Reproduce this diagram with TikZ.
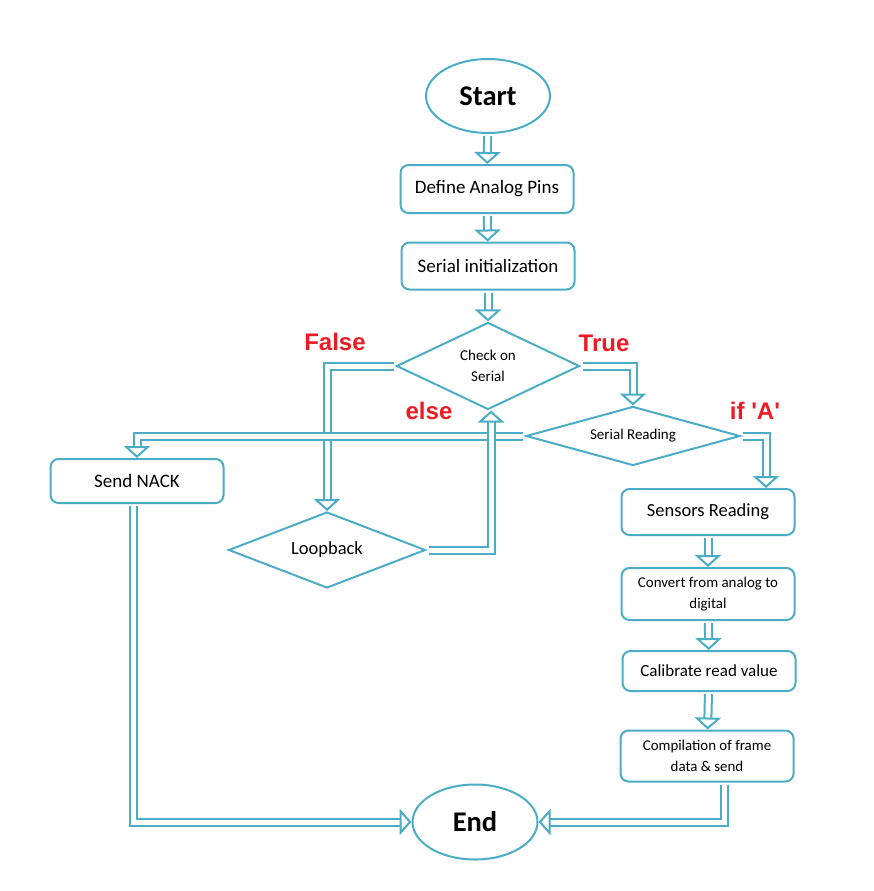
\documentclass[tikz,border=0pt]{standalone}
\usepackage{fontspec}
\setmainfont{Carlito}
\newfontfamily\arialf{Liberation Sans}
\usetikzlibrary{shapes.geometric,arrows.meta}
\definecolor{fc}{RGB}{75,172,198}
\definecolor{lbl}{RGB}{237,28,36}
\tikzset{
  procbox/.style={draw=fc, line width=2pt, rounded corners=8pt, minimum width=173pt, align=center, inner sep=0pt},
  term/.style={draw=fc, line width=2pt, ellipse, inner sep=0pt, font=\fontsize{28.5}{32}\selectfont\bfseries},
  decis/.style={draw=fc, line width=2pt, diamond, inner sep=0pt, shape aspect=2, align=center},
  flow/.style={draw=fc, line width=2pt, double=white, double distance=5pt, -{Triangle[open, fill=white, width'=0pt 2.2, length=12pt, line width=2pt]}, shorten <=2pt},
  cond/.style={text=lbl, font=\arialf\bfseries\fontsize{24}{28}\selectfont},
}
\begin{document}
\begin{tikzpicture}[x=1pt,y=-1pt]
\useasboundingbox (0,0) rectangle (874,891);
\node[term, minimum width=124pt, minimum height=74pt] (start) at (488,96) {Start};
\node[procbox, minimum height=48pt, font=\fontsize{19}{22}\selectfont] (def) at (487,189) {Define Analog Pins};
\node[procbox, minimum height=47pt, font=\fontsize{19}{22}\selectfont] (ser) at (488,266) {Serial initialization};
\node[decis, minimum width=183pt, minimum height=87pt, font=\fontsize{15}{21}\selectfont] (chk) at (488,366) {Check on\\Serial};
\node[decis, minimum width=214pt, minimum height=59pt, font=\fontsize{15}{18}\selectfont] (srd) at (633,436) {Serial Reading};
\node[procbox, minimum height=44pt, font=\fontsize{19}{22}\selectfont] (nack) at (137,481) {Send NACK};
\node[decis, minimum width=197pt, minimum height=76pt, font=\fontsize{18.5}{22}\selectfont] (loop) at (327,550) {Loopback};
\node[procbox, minimum height=46pt, font=\fontsize{18.5}{22}\selectfont] (sens) at (708,512) {Sensors Reading};
\node[procbox, minimum height=52pt, font=\fontsize{14.9}{21}\selectfont] (conv) at (708,594) {Convert from analog to\\digital};
\node[procbox, minimum height=40pt, font=\fontsize{17}{20}\selectfont] (cal) at (709,671) {Calibrate read value};
\node[procbox, minimum height=51pt, font=\fontsize{14.9}{21}\selectfont] (comp) at (707,756) {Compilation of frame\\data \& send};
\node[term, minimum width=125pt, minimum height=75pt] (end) at (475,822) {End};

\node[cond] (lf) at (335,342) {False};
\node[cond] (lt) at (604,343) {True};
\node[cond] (le) at (429,411) {else};
\node[cond] (la) at (755,411) {if 'A'};

\draw[flow] (start) -- (def);
\draw[flow] (def) -- (ser);
\draw[flow] (ser) -- (chk);
\draw[flow] (chk.east) -| (srd.north);
\draw[flow] (chk.west) -| (loop.north);
\draw[flow] (srd.west) -| (nack.north);
\draw[flow] (srd.east) -| ([xshift=58pt]sens.north);
\draw[flow] (loop.east) -| ([xshift=3pt]chk.south);
\draw[flow] (sens) -- (conv);
\draw[flow] (conv) -- (cal);
\draw[flow] (cal) -- (comp);
\draw[flow] ([xshift=17pt]comp.south) |- (end.east);
\draw[flow] ([xshift=-4pt]nack.south) |- (end.west);
\end{tikzpicture}
\end{document}
